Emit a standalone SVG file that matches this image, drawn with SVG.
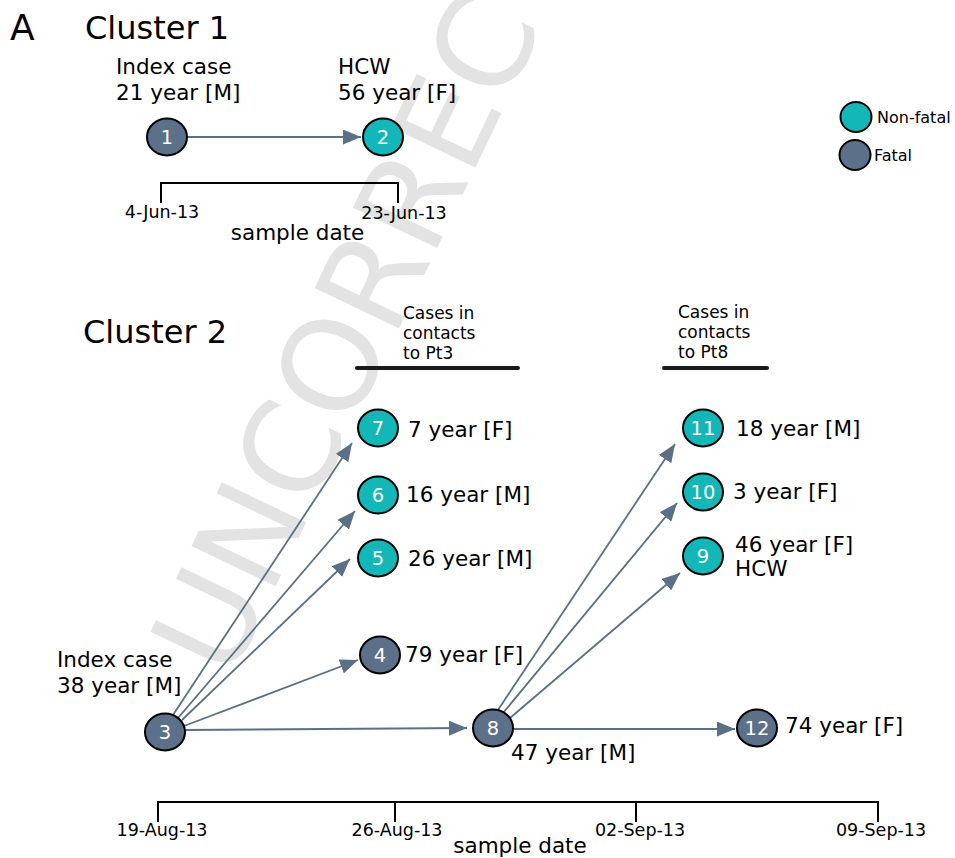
<svg xmlns="http://www.w3.org/2000/svg" width="955" height="858" viewBox="0 0 955 858">
<style>
text{font-family:"DejaVu Sans","Liberation Sans",sans-serif;fill:#000}
.wm{fill:#e3e3e3;font-size:128px}
.title{font-size:32px}
.lab{font-size:21.5px}
.date{font-size:17.5px;text-anchor:middle}
.hdr{font-size:17px}
.leg{font-size:16px}
.num{font-size:19.5px;fill:#fff;text-anchor:middle}
.fatal{fill:#5d7089;stroke:#000;stroke-width:2}
.nonfatal{fill:#13b7b7;stroke:#000;stroke-width:2}
.edge{stroke:#5b7087;stroke-width:1.8;fill:none;marker-end:url(#ah)}
.axis{stroke:#000;stroke-width:2;fill:none}
.bar{stroke:#1a1a1a;stroke-width:4;stroke-linecap:round}
</style>
<defs>
<marker id="ah" markerUnits="userSpaceOnUse" markerWidth="19" markerHeight="15" refX="18" refY="7.5" orient="auto">
<path d="M0,0 L18,7.5 L0,15 z" fill="#5b7087"/>
</marker>
</defs>
<rect width="955" height="858" fill="#fff"/>
<text class="wm" transform="translate(230,682) rotate(-64.5)">UNCORREC</text>

<text x="10" y="40" style="font-size:36px">A</text>
<text class="title" x="85" y="39">Cluster 1</text>
<text class="title" x="83" y="343">Cluster 2</text>

<g id="legend">
<ellipse class="nonfatal" cx="856" cy="117" rx="15.5" ry="15"/>
<text class="leg" x="877" y="123">Non-fatal</text>
<ellipse class="fatal" cx="855" cy="155" rx="15.5" ry="15"/>
<text class="leg" x="874" y="161">Fatal</text>
</g>

<g id="axis1">
<path class="axis" d="M161,203 V183 H398 V203"/>
<text class="date" x="162" y="218">4-Jun-13</text>
<text class="date" x="404" y="219">23-Jun-13</text>
<text class="lab" x="297.5" y="240" text-anchor="middle">sample date</text>
</g>

<g id="axis2">
<path class="axis" d="M158,822 V802 H878 V822 M395,802 V822 M636,802 V822"/>
<text class="date" x="162" y="836">19-Aug-13</text>
<text class="date" x="397" y="836">26-Aug-13</text>
<text class="date" x="640" y="836">02-Sep-13</text>
<text class="date" x="881" y="836">09-Sep-13</text>
<text class="lab" x="520" y="853" text-anchor="middle">sample date</text>
</g>

<g id="headers">
<text class="hdr" x="403" y="319">Cases in</text>
<text class="hdr" x="403" y="339">contacts</text>
<text class="hdr" x="403" y="359">to Pt3</text>
<line class="bar" x1="357" y1="368" x2="518" y2="368"/>
<text class="hdr" x="678" y="318">Cases in</text>
<text class="hdr" x="678" y="338">contacts</text>
<text class="hdr" x="678" y="358">to Pt8</text>
<line class="bar" x1="664" y1="368" x2="767" y2="368"/>
</g>

<g id="connectors">
<line class="edge" x1="187" y1="137" x2="361" y2="137"/>
<line class="edge" x1="173" y1="715" x2="352" y2="443"/>
<line class="edge" x1="178" y1="718" x2="355" y2="511"/>
<line class="edge" x1="182" y1="720" x2="350" y2="559"/>
<line class="edge" x1="184" y1="726" x2="358" y2="660"/>
<line class="edge" x1="185" y1="730" x2="467" y2="728"/>
<line class="edge" x1="498" y1="710" x2="675" y2="444"/>
<line class="edge" x1="503" y1="713" x2="677" y2="503"/>
<line class="edge" x1="510" y1="718" x2="680" y2="573"/>
<line class="edge" x1="513" y1="729" x2="735" y2="729"/>
</g>

<g id="node1">
<ellipse class="fatal" cx="167" cy="137" rx="20" ry="18.5"/>
<text class="num" x="167" y="144">1</text>
<text class="lab" x="116" y="74">Index case</text>
<text class="lab" x="116" y="100">21 year [M]</text>
</g>
<g id="node2">
<ellipse class="nonfatal" cx="383" cy="137" rx="20" ry="18.5"/>
<text class="num" x="383" y="144">2</text>
<text class="lab" x="338" y="74">HCW</text>
<text class="lab" x="338" y="100">56 year [F]</text>
</g>
<g id="node3">
<ellipse class="fatal" cx="165" cy="732" rx="20" ry="18.5"/>
<text class="num" x="165" y="739">3</text>
<text class="lab" x="57" y="667">Index case</text>
<text class="lab" x="57" y="693">38 year [M]</text>
</g>
<g id="node4">
<ellipse class="fatal" cx="380" cy="655" rx="20" ry="18.5"/>
<text class="num" x="380" y="662">4</text>
<text class="lab" x="405" y="662">79 year [F]</text>
</g>
<g id="node5">
<ellipse class="nonfatal" cx="378" cy="558" rx="20" ry="18.5"/>
<text class="num" x="378" y="565">5</text>
<text class="lab" x="408" y="566">26 year [M]</text>
</g>
<g id="node6">
<ellipse class="nonfatal" cx="378" cy="495" rx="20" ry="18.5"/>
<text class="num" x="378" y="502">6</text>
<text class="lab" x="406" y="502">16 year [M]</text>
</g>
<g id="node7">
<ellipse class="nonfatal" cx="378" cy="428" rx="20" ry="18.5"/>
<text class="num" x="378" y="435">7</text>
<text class="lab" x="408" y="437">7 year [F]</text>
</g>
<g id="node8">
<ellipse class="fatal" cx="493" cy="728" rx="20" ry="18.5"/>
<text class="num" x="493" y="735">8</text>
<text class="lab" x="511" y="760">47 year [M]</text>
</g>
<g id="node9">
<ellipse class="nonfatal" cx="703" cy="556" rx="20" ry="18.5"/>
<text class="num" x="703" y="563">9</text>
<text class="lab" x="735" y="552">46 year [F]</text>
<text class="lab" x="735" y="576">HCW</text>
</g>
<g id="node10">
<ellipse class="nonfatal" cx="703" cy="492" rx="20" ry="18.5"/>
<text class="num" x="703" y="499">10</text>
<text class="lab" x="733" y="499">3 year [F]</text>
</g>
<g id="node11">
<ellipse class="nonfatal" cx="703" cy="428" rx="20" ry="18.5"/>
<text class="num" x="703" y="435">11</text>
<text class="lab" x="736" y="436">18 year [M]</text>
</g>
<g id="node12">
<ellipse class="fatal" cx="757" cy="728" rx="20" ry="18.5"/>
<text class="num" x="757" y="735">12</text>
<text class="lab" x="785" y="733">74 year [F]</text>
</g>
</svg>
